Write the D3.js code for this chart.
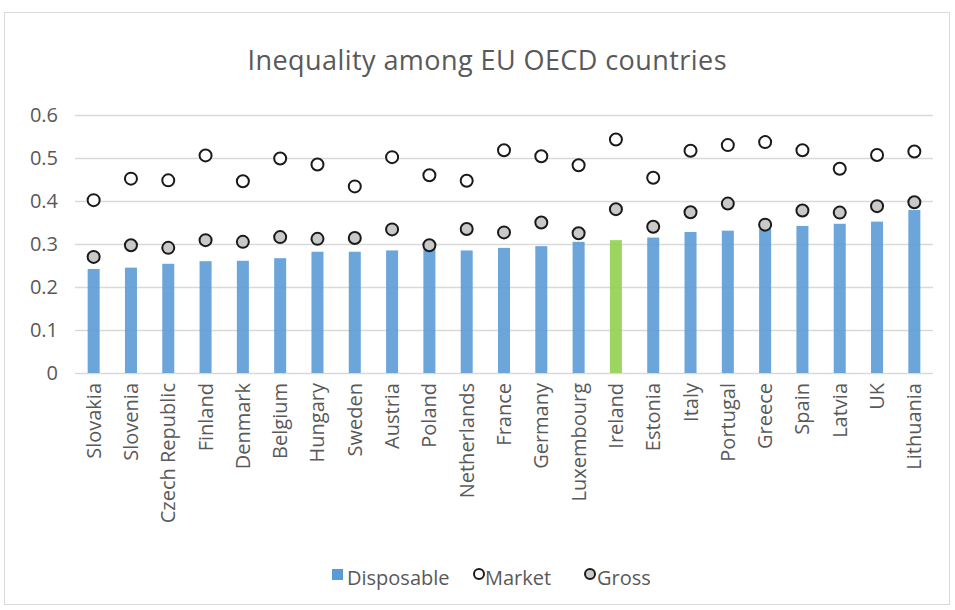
<!DOCTYPE html>
<html>
<head>
<meta charset="utf-8">
<script src="https://cdn.jsdelivr.net/npm/d3@7"></script>
<style>
  body { margin: 0; background: #fff; }
  text { font-family: "Open Sans", sans-serif; fill: #595959; }
</style>
</head>
<body>
<svg id="chart" width="955" height="610"></svg>
<script>
const countries = ['Slovakia', 'Slovenia', 'Czech Republic', 'Finland', 'Denmark', 'Belgium',
  'Hungary', 'Sweden', 'Austria', 'Poland', 'Netherlands', 'France', 'Germany', 'Luxembourg',
  'Ireland', 'Estonia', 'Italy', 'Portugal', 'Greece', 'Spain', 'Latvia', 'UK', 'Lithuania'];
const disposable = [0.242, 0.245, 0.254, 0.260, 0.261, 0.267, 0.282, 0.282, 0.285, 0.288, 0.285,
  0.291, 0.295, 0.305, 0.309, 0.315, 0.328, 0.331, 0.336, 0.342, 0.347, 0.352, 0.379];
const market = [0.402, 0.452, 0.448, 0.506, 0.446, 0.499, 0.485, 0.434, 0.502, 0.460, 0.447,
  0.518, 0.504, 0.483, 0.543, 0.454, 0.517, 0.530, 0.537, 0.518, 0.475, 0.507, 0.515];
const gross = [0.270, 0.297, 0.291, 0.309, 0.305, 0.316, 0.312, 0.314, 0.334, 0.297, 0.335,
  0.327, 0.350, 0.325, 0.381, 0.340, 0.374, 0.394, 0.345, 0.378, 0.373, 0.388, 0.397];
const yTicks = [0, 0.1, 0.2, 0.3, 0.4, 0.5, 0.6];
const highlight = 'Ireland';

const svg = d3.select('#chart');

// chart frame
svg.append('rect')
  .attr('x', 4.5).attr('y', 12.5)
  .attr('width', 945).attr('height', 592)
  .attr('fill', 'none')
  .attr('stroke', '#d9d9d9');

svg.append('text')
  .attr('x', 487).attr('y', 70)
  .attr('text-anchor', 'middle')
  .style('font-size', '27px')
  .attr('textLength', 479)
  .text('Inequality among EU OECD countries');

let x = d3.scaleBand()
  .domain(countries)
  .range([75, 933]);

let y = d3.scaleLinear()
  .domain([0, 0.6])
  .range([373, 115]);

// gridlines
svg.append('g')
  .selectAll('line')
  .data(yTicks).enter()
  .append('line')
  .attr('x1', 75).attr('x2', 933)
  .attr('y1', d => Math.round(y(d)) + 0.5)
  .attr('y2', d => Math.round(y(d)) + 0.5)
  .attr('stroke', '#d9d9d9')
  .attr('stroke-width', 1.5);

let yAxis = svg.append('g')
  .attr('transform', 'translate(75,0)')
  .call(d3.axisLeft(y).tickValues(yTicks).tickSize(0).tickPadding(17)
    .tickFormat(d => d === 0 ? '0' : d3.format('.1f')(d)));
yAxis.select('.domain').remove();
yAxis.selectAll('text')
  .style('font-size', '20px')
  .style('font-family', '"Open Sans", sans-serif')
  .attr('fill', '#595959');

// bars
let barW = 12;
svg.append('g')
  .selectAll('rect')
  .data(countries).enter()
  .append('rect')
  .attr('x', d => x(d) + x.bandwidth() / 2 - barW / 2)
  .attr('y', (d, i) => y(disposable[i]))
  .attr('width', barW)
  .attr('height', (d, i) => y(0) - y(disposable[i]))
  .attr('fill', d => d === highlight ? '#92d050' : '#5b9bd5')
  .attr('opacity', 0.9);

// x labels
let xAxis = svg.append('g')
  .attr('transform', 'translate(0,373)')
  .call(d3.axisBottom(x).tickSize(0).tickPadding(0));
xAxis.select('.domain').remove();
xAxis.selectAll('text')
  .attr('transform', 'rotate(-90)')
  .attr('x', -10)
  .attr('y', 0)
  .attr('dy', '0.35em')
  .attr('text-anchor', 'end')
  .style('font-size', '20px')
  .style('font-family', '"Open Sans", sans-serif')
  .attr('fill', '#595959');

function dots(values, fill) {
  svg.append('g')
    .selectAll('circle')
    .data(countries).enter()
    .append('circle')
    .attr('cx', d => x(d) + x.bandwidth() / 2)
    .attr('cy', (d, i) => y(values[i]))
    .attr('r', 6)
    .attr('fill', fill)
    .attr('stroke', '#1a1a1a')
    .attr('stroke-width', 2);
}
dots(market, '#ffffff');
dots(gross, '#c9c9c9');

// legend
let legend = svg.append('g').attr('transform', 'translate(0,578)');
legend.append('rect')
  .attr('x', 332).attr('y', -9).attr('width', 11).attr('height', 11)
  .attr('fill', '#5b9bd5');
legend.append('text').attr('x', 347).attr('y', 7).style('font-size', '20px').text('Disposable');
legend.append('circle')
  .attr('cx', 479).attr('cy', -4).attr('r', 5)
  .attr('fill', '#fff').attr('stroke', '#1a1a1a').attr('stroke-width', 2);
legend.append('text').attr('x', 485).attr('y', 7).style('font-size', '20px').text('Market');
legend.append('circle')
  .attr('cx', 590).attr('cy', -4).attr('r', 5)
  .attr('fill', '#c9c9c9').attr('stroke', '#1a1a1a').attr('stroke-width', 2);
legend.append('text').attr('x', 597).attr('y', 7).style('font-size', '20px').text('Gross');
</script>
</body>
</html>
